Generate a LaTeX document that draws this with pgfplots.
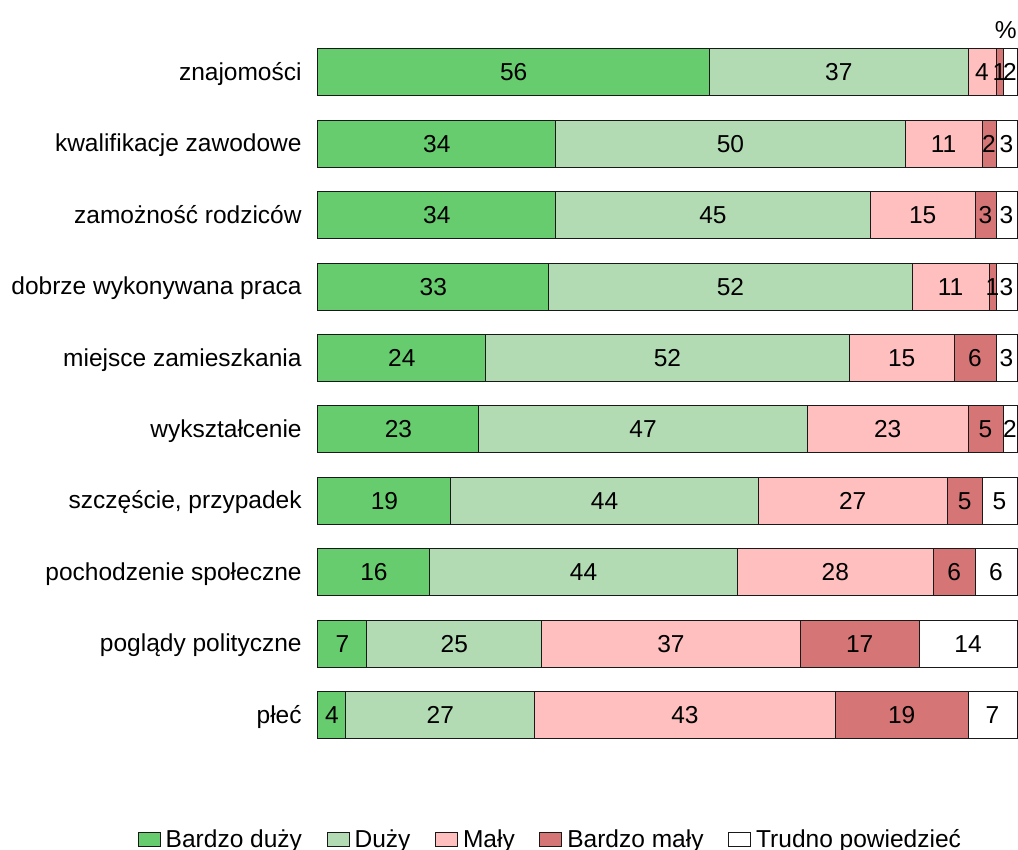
\documentclass[border=0pt]{standalone}
\usepackage{fontspec}
\setmainfont{Liberation Sans}
\usepackage{pgfplots}
\pgfplotsset{compat=1.18}
\usepackage{pgfplotstable}

\definecolor{c1}{HTML}{66CC6E}
\definecolor{c2}{HTML}{B3DBB3}
\definecolor{c3}{HTML}{FFBFBF}
\definecolor{c4}{HTML}{D57575}
\definecolor{c5}{HTML}{FFFFFF}

\pgfplotstableread{
idx a b c d e
0 56 37 4 1 2
1 34 50 11 2 3
2 34 45 15 3 3
3 33 52 11 1 3
4 24 52 15 6 3
5 23 47 23 5 2
6 19 44 27 5 5
7 16 44 28 6 6
8 7 25 37 17 14
9 4 27 43 19 7
}\data

\newcommand{\fs}{\fontsize{12.3}{14}\selectfont}

\pgfplotsset{
  common/.style={
    scale only axis, width=349.5bp, height=357bp,
    xmin=0, xmax=100, ymin=-0.5, ymax=9.5, y dir=reverse,
    at={(0,0)}, anchor=south west, clip=false,
  },
  sqlegend/.style={legend image code/.code={\draw[##1] (0bp,-3.3bp) rectangle (11bp,3.7bp);}},
  lbl/.style={forget plot, only marks, mark=*, mark size=0pt, mark options={draw=none, fill=none},
    nodes near coords={\pgfplotspointmeta}, point meta=explicit symbolic},
}

\begin{document}
\begin{tikzpicture}
\useasboundingbox (-159bp,-49.65bp) rectangle (350bp,375.35bp);
\begin{axis}[
  common,
  xbar stacked, bar width=23.5bp,
  axis line style={draw=none},
  major tick length=0pt,
  xtick=\empty,
  ytick={0,...,9},
  yticklabels={znajomości, kwalifikacje zawodowe, zamożność rodziców, dobrze wykonywana praca, {miejsce zamieszkania\ }, wykształcenie, {szczęście, przypadek}, pochodzenie społeczne, poglądy polityczne, płeć},
  yticklabel style={font=\fs, inner sep=0pt, anchor=base east, xshift=-8bp, yshift=-4bp},
]
\addplot[fill=c1, draw=black!90, line width=0.5bp] table[x=a, y=idx]{\data};
\addplot[fill=c2, draw=black!90, line width=0.5bp] table[x=b, y=idx]{\data};
\addplot[fill=c3, draw=black!90, line width=0.5bp] table[x=c, y=idx]{\data};
\addplot[fill=c4, draw=black!90, line width=0.5bp] table[x=d, y=idx]{\data};
\addplot[fill=c5, draw=black!90, line width=0.5bp] table[x=e, y=idx]{\data};
\end{axis}
\begin{axis}[
  common, hide axis,
  legend style={at={(axis description cs:0.331,-0.125)}, anchor=center, draw=none, fill=none,
    font=\fs, legend columns=5, inner sep=0pt, nodes={inner sep=0pt},
    /tikz/every even column/.append style={column sep=12.3bp},
    /tikz/every odd column/.append style={column sep=2.5bp}},
  every node near coord/.append style={anchor=center, font=\fs, inner sep=0pt},
]
\addplot[lbl] table[x expr=\thisrow{a}/2, y=idx, meta=a]{\data};
\addplot[lbl] table[x expr=\thisrow{a}+\thisrow{b}/2, y=idx, meta=b]{\data};
\addplot[lbl] table[x expr=\thisrow{a}+\thisrow{b}+\thisrow{c}/2, y=idx, meta=c]{\data};
\addplot[lbl] table[x expr=\thisrow{a}+\thisrow{b}+\thisrow{c}+\thisrow{d}/2, y=idx, meta=d]{\data};
\addplot[lbl] table[x expr=\thisrow{a}+\thisrow{b}+\thisrow{c}+\thisrow{d}+\thisrow{e}/2, y=idx, meta=e]{\data};
\node[font=\fs] at (axis description cs:0.984,1.009) {\%};
\addlegendimage{fill=c1, draw=black!90, line width=0.5bp, sqlegend}
\addlegendentry{Bardzo duży}
\addlegendimage{fill=c2, draw=black!90, line width=0.5bp, sqlegend}
\addlegendentry{Duży}
\addlegendimage{fill=c3, draw=black!90, line width=0.5bp, sqlegend}
\addlegendentry{Mały}
\addlegendimage{fill=c4, draw=black!90, line width=0.5bp, sqlegend}
\addlegendentry{Bardzo mały}
\addlegendimage{fill=c5, draw=black!90, line width=0.5bp, sqlegend}
\addlegendentry{Trudno powiedzieć}
\end{axis}
\end{tikzpicture}
\end{document}
